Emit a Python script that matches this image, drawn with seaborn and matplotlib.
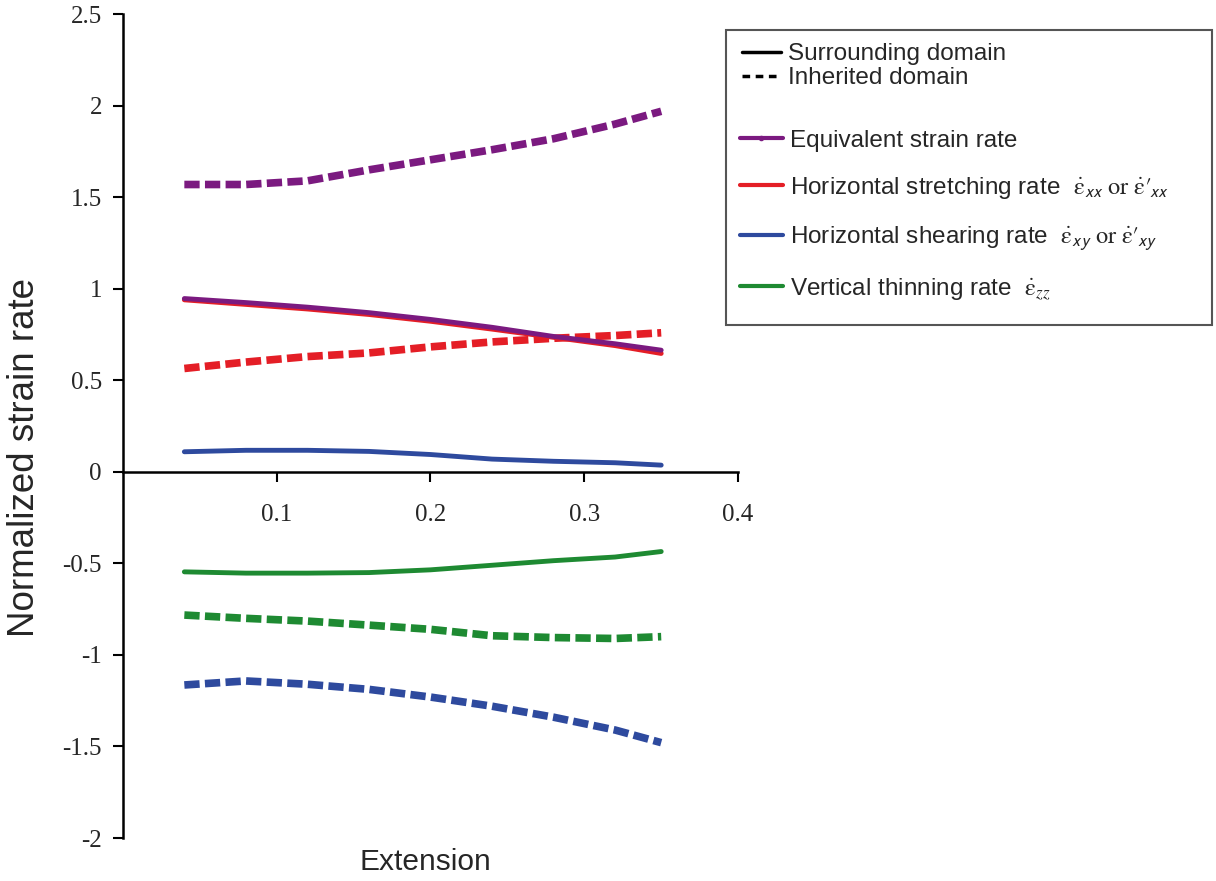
import numpy as np
import pandas as pd
import matplotlib.pyplot as plt
import seaborn as sns
from matplotlib.lines import Line2D
from matplotlib.patches import Rectangle
from matplotlib.ticker import FormatStrFormatter

# extension values shared by all curves
extension = [0.04, 0.08, 0.12, 0.16, 0.20, 0.24, 0.28, 0.32, 0.35]

# surrounding domain (solid)
equiv_surr   = [0.947, 0.925, 0.900, 0.870, 0.833, 0.790, 0.740, 0.700, 0.665]
stretch_surr = [0.940, 0.915, 0.890, 0.860, 0.823, 0.780, 0.735, 0.690, 0.647]
shear_surr   = [0.110, 0.118, 0.118, 0.112, 0.095, 0.070, 0.058, 0.050, 0.037]
thin_surr    = [-0.546, -0.553, -0.553, -0.550, -0.535, -0.510, -0.485, -0.465, -0.435]

# inherited domain (dashed)
equiv_inh    = [1.570, 1.570, 1.590, 1.650, 1.705, 1.760, 1.820, 1.900, 1.970]
stretch_inh  = [0.565, 0.600, 0.630, 0.650, 0.683, 0.710, 0.730, 0.745, 0.760]
shear_inh    = [-1.164, -1.142, -1.160, -1.188, -1.230, -1.280, -1.340, -1.410, -1.479]
thin_inh     = [-0.782, -0.800, -0.815, -0.837, -0.860, -0.895, -0.905, -0.910, -0.900]

quantities = ['equiv', 'stretch', 'shear', 'thin']
colors = {'equiv': '#7b1a80', 'stretch': '#e41e26', 'shear': '#2e4a9e', 'thin': '#1e8a32'}

rows = []
for q, s, i in zip(quantities,
                   [equiv_surr, stretch_surr, shear_surr, thin_surr],
                   [equiv_inh, stretch_inh, shear_inh, thin_inh]):
    for x, a, b in zip(extension, s, i):
        rows.append((x, a, q, 'Surrounding'))
        rows.append((x, b, q, 'Inherited'))
df = pd.DataFrame(rows, columns=['Extension', 'rate', 'quantity', 'domain'])

sns.set_style('ticks')
plt.rcParams['font.family'] = ['Liberation Sans', 'DejaVu Sans']
plt.rcParams['mathtext.fontset'] = 'stix'
plt.rcParams['axes.unicode_minus'] = False

fig = plt.figure(figsize=(12.16, 8.81), dpi=100)
ax = fig.add_axes([0.101, 0.0488, 0.506, 0.935])

sns.lineplot(data=df, x='Extension', y='rate', hue='quantity', style='domain',
             size='domain', palette=colors,
             dashes={'Surrounding': '', 'Inherited': (2.0, 0.7)},
             sizes={'Surrounding': 3.5, 'Inherited': 5.5},
             hue_order=['stretch', 'equiv', 'shear', 'thin'],
             legend=False, ax=ax)

ax.set_xlim(0, 0.4)
ax.set_ylim(-2, 2.5)
ax.set_xticks([0.1, 0.2, 0.3, 0.4])
ax.set_yticks(np.arange(-2, 2.51, 0.5))
ax.yaxis.set_major_formatter(FormatStrFormatter('%g'))
ax.xaxis.set_major_formatter(FormatStrFormatter('%g'))

sns.despine(ax=ax)
ax.spines['bottom'].set_position(('data', 0))
for sp in ['left', 'bottom']:
    ax.spines[sp].set_linewidth(1.8)
    ax.spines[sp].set_color('black')

ax.tick_params(axis='both', direction='out', length=7, width=1.5, color='black')
ax.tick_params(axis='x', pad=16)
ax.tick_params(axis='y', pad=8)
for lab in ax.get_xticklabels() + ax.get_yticklabels():
    lab.set_fontfamily('Liberation Serif')
    lab.set_fontsize(18)

ax.set_xlabel('Extension', fontsize=21.5)
ax.set_ylabel('Normalized strain rate', fontsize=26.5)
ax.xaxis.set_label_coords(0.492, -0.012)
ax.yaxis.set_label_coords(-0.132, 0.462)

# legend frame and entries
fig.patches.append(Rectangle((0.597, 0.631), 0.4, 0.335, transform=fig.transFigure,
                             fill=False, ec='#555555', lw=1.5))

style_handles = [Line2D([], [], color='black', lw=2.5),
                 Line2D([], [], color='black', lw=2.5, dashes=(2.2, 1.6))]
leg1 = fig.legend(style_handles, ['Surrounding domain', 'Inherited domain'],
                  loc='upper left', bbox_to_anchor=(0.61, 0.951),
                  bbox_transform=fig.transFigure, frameon=False, fontsize=17.5,
                  handlelength=1.6, handletextpad=0.3, labelspacing=0.08,
                  borderpad=0, borderaxespad=0)

color_handles = [Line2D([], [], color=colors['equiv'], lw=3, marker='.', markersize=6),
                 Line2D([], [], color=colors['stretch'], lw=3),
                 Line2D([], [], color=colors['shear'], lw=3),
                 Line2D([], [], color=colors['thin'], lw=3)]
color_labels = ['Equivalent strain rate',
                r'Horizontal stretching rate  $\dot{\mathrm{\varepsilon}}_{\mathsf{xx}}\ \mathrm{or}\ \dot{\mathrm{\varepsilon}}\prime_{\!\mathsf{xx}}$',
                r'Horizontal shearing rate  $\dot{\mathrm{\varepsilon}}_{\mathsf{xy}}\ \mathrm{or}\ \dot{\mathrm{\varepsilon}}\prime_{\!\mathsf{xy}}$',
                r'Vertical thinning rate  $\dot{\mathrm{\varepsilon}}_{zz}$']
leg2 = fig.legend(color_handles, color_labels,
                  loc='upper left', bbox_to_anchor=(0.6086, 0.853),
                  bbox_transform=fig.transFigure, frameon=False, fontsize=17.5,
                  handlelength=1.75, handletextpad=0.3, labelspacing=0.95,
                  borderpad=0, borderaxespad=0)

fig.savefig('out.png', dpi=100)
